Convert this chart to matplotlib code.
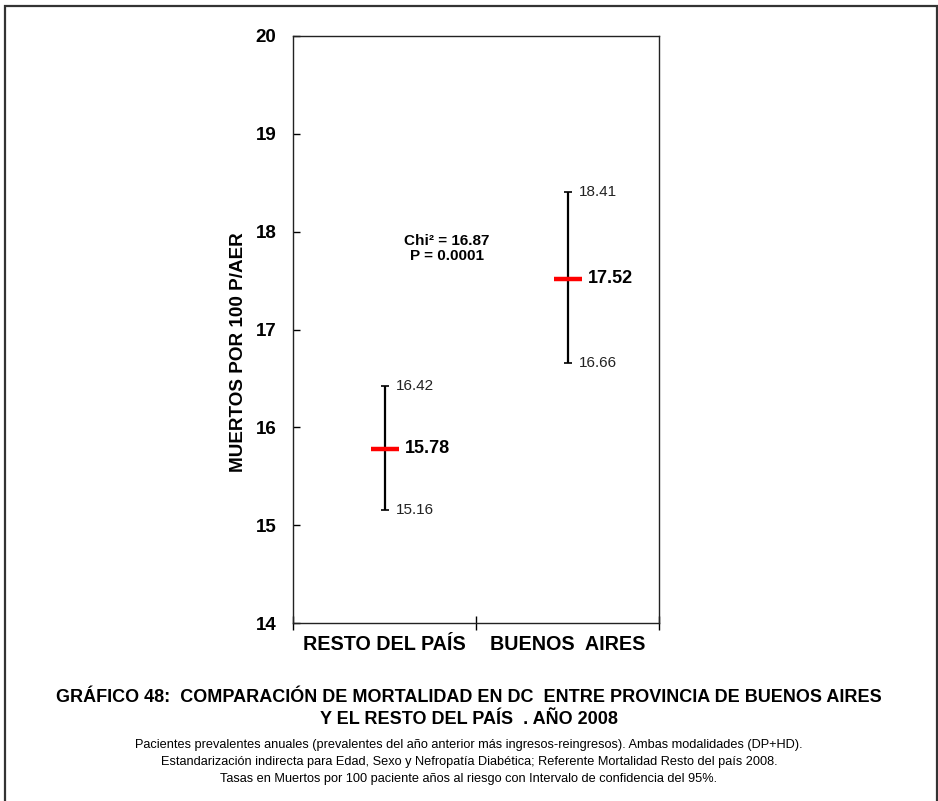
import matplotlib
matplotlib.use("Agg")
import matplotlib.pyplot as plt
from matplotlib.patches import Rectangle

categories = ["RESTO DEL PAÍS", "BUENOS  AIRES"]
rates = [15.78, 17.52]
lower = [15.16, 16.66]
upper = [16.42, 18.41]
y_ticks = [14, 15, 16, 17, 18, 19, 20]
stat_text = "Chi² = 16.87\nP = 0.0001"
title_lines = ["GRÁFICO 48:  COMPARACIÓN DE MORTALIDAD EN DC  ENTRE PROVINCIA DE BUENOS AIRES",
               "Y EL RESTO DEL PAÍS  . AÑO 2008"]
notes = ["Pacientes prevalentes anuales (prevalentes del año anterior más ingresos-reingresos). Ambas modalidades (DP+HD).",
         "Estandarización indirecta para Edad, Sexo y Nefropatía Diabética; Referente Mortalidad Resto del país 2008.",
         "Tasas en Muertos por 100 paciente años al riesgo con Intervalo de confidencia del 95%."]

plt.rcParams['font.family'] = ['Liberation Sans', 'DejaVu Sans']

fig = plt.figure(figsize=(9.38, 8.01), dpi=100)
ax = fig.add_axes([293/938, 1-623/801, 366/938, 587/801])

xs = [i + 0.5 for i in range(len(categories))]
for x, r, lo, hi in zip(xs, rates, lower, upper):
    ax.errorbar([x], [r], yerr=[[r - lo], [hi - r]], fmt='none', ecolor='black',
                elinewidth=1.6, capsize=3, capthick=1.2, zorder=2)
    ax.plot([x], [r], marker='_', markersize=20, mew=3.2, color='#ff0000', zorder=3)
    ax.annotate(f"{hi:.2f}", (x, hi), xytext=(8, 0), textcoords='offset points',
                ha='left', va='center', fontsize=11, color='#222222')
    ax.annotate(f"{lo:.2f}", (x, lo), xytext=(8, 0), textcoords='offset points',
                ha='left', va='center', fontsize=11, color='#222222')
    ax.annotate(f"{r:.2f}", (x, r), xytext=(15, 0), textcoords='offset points',
                ha='left', va='center', fontsize=13, fontweight='bold')

ax.text(0.84, 17.83, stat_text, ha='center', va='center', fontsize=11,
        fontweight='bold', linespacing=1.1)

ax.set_xlim(0, 2)
ax.set_ylim(14, 20)
ax.set_yticks(y_ticks)
ax.set_yticklabels([str(t) for t in y_ticks], fontsize=13.5, fontweight='bold')
ax.tick_params(axis='y', direction='in', length=5, width=1, pad=12)
ax.set_xticks([0, 1, 2])
ax.set_xticklabels([])
ax.tick_params(axis='x', which='major', direction='inout', length=10, width=1)
ax.set_xticks(xs, minor=True)
ax.set_xticklabels(categories, minor=True, fontsize=14.2, fontweight='bold')
ax.tick_params(axis='x', which='minor', length=0, pad=9)
ax.set_ylabel("MUERTOS POR 100 P/AER", fontsize=13.6, fontweight='bold')
ax.yaxis.set_label_coords(-0.126, 0.462)
for s in ax.spines.values():
    s.set_linewidth(1.0)
    s.set_color('#222222')

fig.text(0.5, 1-697/801, title_lines[0], ha='center', va='center', fontsize=13,
         fontweight='bold')
fig.text(0.5, 1-719/801, title_lines[1], ha='center', va='center', fontsize=13,
         fontweight='bold')
for i, n in enumerate(notes):
    fig.text(0.5, 1-(745 + 17*i)/801, n, ha='center', va='center', fontsize=9.2)

fig.patches.append(Rectangle((4.5/938, -0.02), 932/938, 1-5.5/801 + 0.02,
                             transform=fig.transFigure, fill=False,
                             edgecolor='#333333', linewidth=1.6))

fig.savefig("out.png", dpi=100)
